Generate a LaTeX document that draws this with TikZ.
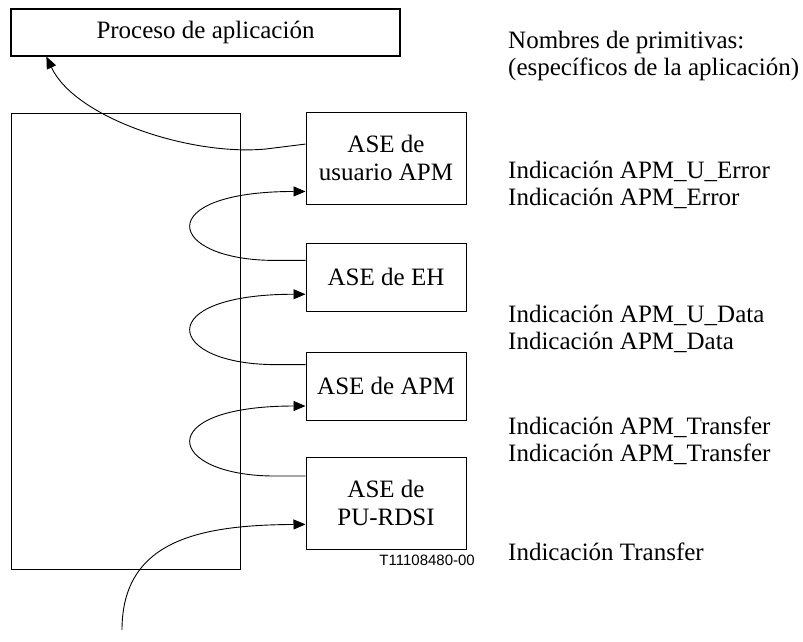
\documentclass[tikz,border=0pt]{standalone}
\usepackage{fontspec}
\setmainfont{Liberation Serif}
\setsansfont{Liberation Sans}
\usetikzlibrary{positioning, arrows.meta, calc}

\begin{document}
\begin{tikzpicture}[
  x=1pt, y=-1pt,
  ase/.style={draw, line width=1pt, minimum width=160pt, inner sep=0pt, align=center, font=\fontsize{25}{28}\selectfont},
  prim/.style={anchor=base west, inner sep=0pt, align=left, font=\fontsize{25}{27}\selectfont},
  flow/.style={line width=0.9pt},
  >={Triangle[length=12pt, width=10pt]}
]
\useasboundingbox (0,0) rectangle (803,642);

% Application process and the application entity
\node[draw, line width=1.2pt, minimum width=389pt, minimum height=47pt, inner sep=0pt, font=\fontsize{25}{28}\selectfont] (proceso) at (205.5,32.5) {Proceso de aplicación};
\node[draw, line width=1pt, minimum width=229pt, minimum height=456pt] (entidad) at (125.5,341) {};

% ASE stack
\node[ase, minimum height=92pt] (usuario) at (386,158) {ASE de\\usuario APM};
\node[ase, minimum height=68pt, below=38pt of usuario] (eh) {ASE de EH};
\node[ase, minimum height=68pt, below=40pt of eh] (apm) {ASE de APM};
\node[ase, minimum height=92pt, below=36pt of apm] (pu) {ASE de\\PU-RDSI};
\node[anchor=base east, inner sep=0pt, font=\sffamily\fontsize{15}{18}\selectfont] (ref) at (475,565) {T11108480-00};

% Connection points on the ASE boxes
\coordinate (usOut) at ($(usuario.north west)!0.35!(usuario.south west)$);
\coordinate (usIn)  at ($(usuario.north west)!0.86!(usuario.south west)$);
\coordinate (ehOut) at ($(eh.north west)!0.26!(eh.south west)$);
\coordinate (ehIn)  at ($(eh.north west)!0.75!(eh.south west)$);
\coordinate (apmOut) at ($(apm.north west)!0.19!(apm.south west)$);
\coordinate (apmIn)  at ($(apm.north west)!0.79!(apm.south west)$);
\coordinate (puOut) at ($(pu.north west)!0.21!(pu.south west)$);
\coordinate (puIn)  at ($(pu.north west)!0.73!(pu.south west)$);
\coordinate (fuente) at (122,630);

% Indications passed upwards
\draw[flow, ->] (fuente) .. controls (122,540) and (200,525) .. (puIn);
\draw[flow, ->] (puOut) -- ++(-30,0) .. controls +(-110,0) and +(-155,0) .. (apmIn);
\draw[flow, ->] (apmOut) -- ++(-30,0) .. controls +(-110,0) and +(-155,0) .. (ehIn);
\draw[flow, ->] (ehOut) -- ++(-30,0) .. controls +(-110,0) and +(-155,0) .. (usIn);
\draw[flow, ->] (usOut) -- ++(-40,5) .. controls (190,156) and (75,118) .. ($(proceso.south west)+(36,0)$);

% Primitive names
\node[prim] (nombres) at (508,75) {Nombres de primitivas:\\(específicos de la aplicación)};
\node[prim] (errores) at (508,205) {Indicación APM\_U\_Error\\Indicación APM\_Error};
\node[prim] (datos) at (508,349) {Indicación APM\_U\_Data\\Indicación APM\_Data};
\node[prim] (transf) at (508,461) {Indicación APM\_Transfer\\Indicación APM\_Transfer};
\node[prim] (transfer) at (508,560) {Indicación Transfer};
\end{tikzpicture}
\end{document}
